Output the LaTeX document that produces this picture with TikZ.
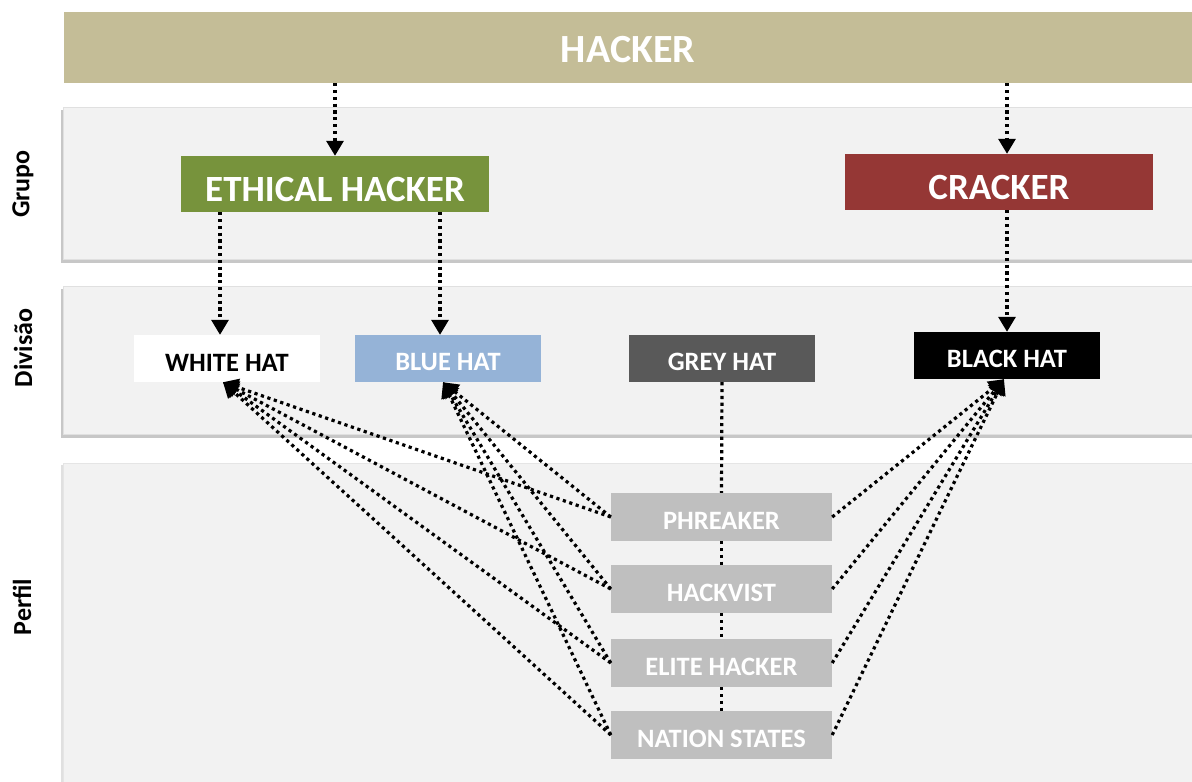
\documentclass[tikz,border=0pt]{standalone}
\usepackage{fontspec}
\setmainfont{Carlito}
\usetikzlibrary{arrows.meta}

\definecolor{hackerbg}{HTML}{C4BD97}
\definecolor{ethicalbg}{HTML}{77933C}
\definecolor{crackerbg}{HTML}{953735}
\definecolor{bluehat}{HTML}{95B3D7}
\definecolor{greyhat}{HTML}{595959}
\definecolor{profilebg}{HTML}{BFBFBF}
\definecolor{lanebg}{HTML}{F2F2F2}

\begin{document}
\begin{tikzpicture}[x=1pt,y=-1pt,
  box/.style={inner sep=0pt, text=white, text height=25pt, font=\bfseries\fontsize{26.5}{31}\selectfont},
  bigbox/.style={box, minimum width=308pt, minimum height=56pt, text height=36pt,
    font=\bfseries\fontsize{37}{44}\selectfont},
  hatbox/.style={box, minimum width=186pt, minimum height=47pt},
  profbox/.style={box, fill=profilebg, minimum width=221pt, minimum height=48pt},
  lanelabel/.style={rotate=90, font=\bfseries\fontsize{26}{30}\selectfont},
  dotline/.style={line width=3.2pt, dash pattern=on 3.2pt off 3.6pt},
  arr/.style={dotline, -{Triangle[width=17pt,length=15pt]}}]
\useasboundingbox (0,0) rectangle (1192,782);

% lanes
\fill[black!22] (61,110) rectangle (1192,263);
\filldraw[fill=lanebg, draw=black!12] (63,107) rectangle (1192,259);
\fill[black!22] (61,289) rectangle (1192,438);
\filldraw[fill=lanebg, draw=black!12] (63,286) rectangle (1192,434);
\fill[black!12] (61,465) rectangle (1192,782);
\filldraw[fill=lanebg, draw=black!10] (63,463) rectangle (1192,784);

\node[lanelabel] (grupo) at (23,184) {Grupo};
\node[lanelabel] (divisao) at (23,348) {Divisão};
\node[lanelabel] (perfil) at (22,607) {Perfil};

% top
\node[box, fill=hackerbg, minimum width=1128pt, minimum height=71pt, text height=31pt,
  font=\bfseries\fontsize{40}{48}\selectfont] (hacker) at (628,47.5) {HACKER};

% grupo
\node[bigbox, fill=ethicalbg] (ethical) at (335,184) {ETHICAL HACKER};
\node[bigbox, fill=crackerbg] (cracker) at (999,182) {CRACKER};

% divisao
\node[hatbox, fill=white, text=black] (white) at (227,358.5) {WHITE HAT};
\node[hatbox, fill=bluehat] (blue) at (448,358.5) {BLUE HAT};
\node[hatbox, fill=greyhat] (grey) at (722,358.5) {GREY HAT};
\node[hatbox, fill=black] (black) at (1007,355.5) {BLACK HAT};

% perfil
\node[profbox] (phreaker) at (721.5,517) {PHREAKER};
\node[profbox] (hackvist) at (721.5,589) {HACKVIST};
\node[profbox] (elite) at (721.5,663) {ELITE HACKER};
\node[profbox] (nation) at (721.5,735) {NATION STATES};

% connectors
\draw[arr] (hacker.south -| ethical.north) -- (ethical.north);
\draw[arr] (hacker.south -| black.north) -- (cracker.north -| black.north);
\draw[arr] ([xshift=-7pt]ethical.south -| white.north) -- ([xshift=-7pt]white.north);
\draw[arr] ([xshift=-8pt]ethical.south -| blue.north) -- ([xshift=-8pt]blue.north);
\draw[arr] (cracker.south -| black.north) -- (black.north);

\foreach \a/\b in {grey/phreaker, phreaker/hackvist, hackvist/elite, elite/nation}
  \draw[dotline] (\a.south) -- (\b.north);

\foreach \p in {phreaker, hackvist, elite, nation} {
  \draw[arr] (\p.west) -- ([xshift=-4pt]white.south);
  \draw[arr] (\p.west) -- ([xshift=-5pt]blue.south);
  \draw[arr] (\p.east) -- ([xshift=-3pt]black.south);
}
\end{tikzpicture}
\end{document}
